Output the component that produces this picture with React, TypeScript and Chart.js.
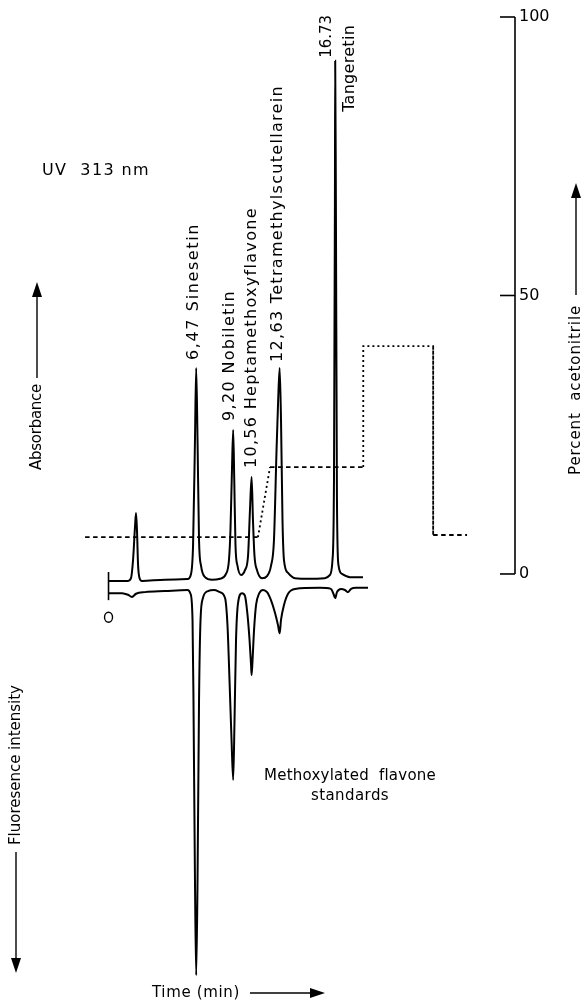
import React, { useEffect, useRef } from "react";
import { Chart, registerables } from "chart.js";

Chart.register(...registerables);

// ---- Data (time in min) ----
// UV absorbance trace (upper)
const absTime = [0, 1.44, 1.66, 1.81, 1.96, 2.03, 2.1, 2.18, 2.29, 2.47, 4.17, 5.83,
  6.09, 6.24, 6.38, 6.47, 6.57, 6.68, 6.83, 7.12, 7.64, 8.22, 8.67, 8.89,
  9.0, 9.11, 9.2, 9.28, 9.37, 9.52, 9.78, 10.07, 10.3,
  10.44, 10.56, 10.66, 10.77, 10.96, 11.33, 11.7, 11.99, 12.21, 12.4,
  12.52, 12.63, 12.73, 12.84, 12.95, 13.25, 13.76, 14.87, 15.97, 16.34, 16.53, 16.64, 16.71,
  16.73, 16.78, 16.86, 16.97, 17.23, 17.82, 18.78];
const absValue = [-0.4, -0.4, 0.1, 3.5, 10.0, 12.3, 9.1, 2.6, 0.1, -0.4, -0.2, -0.05,
  0.9, 6.3, 25.9, 39.4, 25.9, 7.2, 2.4, 0.3, -0.2, 0, 0.9, 3.5,
  9.1, 20.3, 27.8, 18.5, 6.3, 2.4, 0.7, 1.6, 4.4,
  12.9, 19.0, 11.0, 4.4, 1.6, 0.1, 0.5, 2.4, 7.2, 24.0,
  33.4, 39.4, 29.7, 11.0, 3.5, 1.1, 0.1, 0, 0.1, 0.7, 3.5, 18.5, 70.8,
  96.8, 70.8, 14.7, 2.6, 0.9, 0.3, 0.3];

// Fluorescence trace (lower, inverted)
const fluTime = [0, 1.0, 1.44, 1.73, 2.03, 2.69, 4.17, 5.83,
  6.05, 6.2, 6.27, 6.38, 6.47, 6.57, 6.68, 6.79, 6.97, 7.34, 7.79, 8.22,
  8.6, 8.78, 8.93, 9.08, 9.2, 9.3, 9.41, 9.56, 9.85,
  10.07, 10.26, 10.41, 10.52, 10.56, 10.63, 10.74, 10.89, 11.11, 11.4,
  11.7, 11.99, 12.29, 12.51, 12.63, 12.73, 12.95, 13.25, 13.76, 15.6,
  16.41, 16.6, 16.73, 16.86, 17.16, 17.45, 17.67, 17.9, 18.27, 19.15];
const fluValue = [-2.7, -2.7, -3.0, -3.4, -2.8, -2.5, -2.3, -2.1,
  -2.8, -7.7, -22.7, -56.3, -74.1, -56.3, -22.7, -7.7, -3.6, -2.3, -2.1, -2.5,
  -3.6, -8.7, -19.0, -30.2, -37.6, -26.4, -11.5, -4.5, -2.7,
  -3.2, -6.8, -11.5, -16.1, -18.0, -15.2, -9.6, -4.9, -2.8, -2.1,
  -2.5, -4.0, -6.4, -8.7, -10.2, -7.7, -4.9, -2.8, -1.9, -1.7,
  -1.9, -2.8, -3.6, -2.5, -1.9, -2.1, -2.5, -1.9, -1.7, -1.7];

// Acetonitrile gradient (percent)
const gradTime = [-1.73, 11.03, 11.92, 18.8, 18.8, 23.96, 23.96, 26.46];
const gradPercent = [6.6, 6.6, 19.2, 19.2, 40.9, 40.9, 7.0, 7.0];
const gradSegment = ["dashed", "dotted", "dashed", "dotted", "dotted", "dotted", "dashed"];

// Peaks
const peakTimes = [6.47, 9.2, 10.56, 12.63, 16.73];
const peakTimeLabels = ["6,47", "9,20", "10,56", "12,63", "16.73"];
const peakNames = ["Sinesetin", "Nobiletin", "Heptamethoxyflavone", "Tetramethylscutellarein", "Tangeretin"];

const percentTicks = [0, 50, 100];

// ---- label layout (pixel offsets from peak apex, target text length) ----
const peakLabelLayout = [
  { dx: -2, dy: -8, len: 137 },
  { dx: -3, dy: -9, len: 131 },
  { dx: 0, dy: -9, len: 261 },
  { dx: -2, dy: -6, len: 277 },
];

const LBL_FONT = "16px 'DejaVu Sans', sans-serif";
const AX_FONT = "15px 'DejaVu Sans', sans-serif";

function drawText(ctx: CanvasRenderingContext2D, text: string, x: number, y: number,
  font: string, len?: number, rot?: boolean, center?: boolean) {
  ctx.save();
  ctx.translate(x, y);
  if (rot) ctx.rotate(-Math.PI / 2);
  ctx.font = font;
  ctx.textBaseline = "middle";
  ctx.textAlign = "left";
  const w = ctx.measureText(text).width;
  let total = w;
  if (len) {
    total = len;
    if ("letterSpacing" in ctx) {
      (ctx as any).letterSpacing = ((len - w) / text.length).toFixed(2) + "px";
    }
  }
  const startX = center ? -total / 2 : 0;
  if (len && !("letterSpacing" in ctx)) {
    ctx.translate(startX, 0);
    ctx.scale(len / w, 1);
    ctx.fillText(text, 0, 0);
  } else {
    ctx.fillText(text, startX, 0);
  }
  ctx.restore();
}

function arrow(ctx: CanvasRenderingContext2D, x1: number, y1: number, x2: number, y2: number, head = 15, hw = 5) {
  const a = Math.atan2(y2 - y1, x2 - x1);
  ctx.beginPath();
  ctx.moveTo(x1, y1);
  ctx.lineTo(x2 - Math.cos(a) * head * 0.6, y2 - Math.sin(a) * head * 0.6);
  ctx.stroke();
  ctx.beginPath();
  ctx.moveTo(x2, y2);
  ctx.lineTo(x2 - Math.cos(a) * head - Math.sin(a) * hw, y2 - Math.sin(a) * head + Math.cos(a) * hw);
  ctx.lineTo(x2 - Math.cos(a) * head + Math.sin(a) * hw, y2 - Math.sin(a) * head - Math.cos(a) * hw);
  ctx.closePath();
  ctx.fill();
}

const annotate = {
  id: "annotate",
  afterDatasetsDraw(chart: any) {
    const { ctx, chartArea } = chart;
    const xs = chart.scales.x, ys = chart.scales.y, y2 = chart.scales.y2;
    ctx.save();
    ctx.fillStyle = "#000";
    ctx.strokeStyle = "#000";
    ctx.lineWidth = 1.6;

    // right percent axis line and inward ticks
    const ax = chartArea.right;
    ctx.beginPath();
    ctx.moveTo(ax, y2.getPixelForValue(0));
    ctx.lineTo(ax, y2.getPixelForValue(100));
    ctx.stroke();
    percentTicks.forEach((v) => {
      const py = y2.getPixelForValue(v);
      ctx.beginPath();
      ctx.moveTo(ax - 15, py);
      ctx.lineTo(ax, py);
      ctx.stroke();
    });

    // injection marker at t = 0
    const x0 = xs.getPixelForValue(0);
    ctx.beginPath();
    ctx.moveTo(x0, ys.getPixelForValue(1.26));
    ctx.lineTo(x0, ys.getPixelForValue(-4.0));
    ctx.stroke();
    ctx.lineWidth = 1.4;
    ctx.beginPath();
    ctx.ellipse(x0, ys.getPixelForValue(-7.2), 4, 5, 0, 0, Math.PI * 2);
    ctx.stroke();

    // peak labels
    peakTimes.forEach((t, i) => {
      const idx = absTime.indexOf(t);
      const px = xs.getPixelForValue(t);
      const py = ys.getPixelForValue(absValue[idx]);
      if (i < 4) {
        const L = peakLabelLayout[i];
        drawText(ctx, peakTimeLabels[i] + " " + peakNames[i], px + L.dx, py + L.dy, LBL_FONT, L.len, true);
      } else {
        drawText(ctx, peakTimeLabels[i], px - 8, py - 3, "15px 'DejaVu Sans', sans-serif", undefined, true);
        drawText(ctx, peakNames[i], px + 15, py + 51, LBL_FONT, 87, true);
      }
    });

    // texts
    drawText(ctx, "UV  313 nm", 42, 171, "16px 'DejaVu Sans', sans-serif", 108);

    // Absorbance
    ctx.lineWidth = 1.4;
    drawText(ctx, "Absorbance", 37, 470, AX_FONT, 86, true);
    arrow(ctx, 37, 378, 37, 282);

    // Fluorescence
    drawText(ctx, "Fluoresence intensity", 16, 845, AX_FONT, 160, true);
    arrow(ctx, 16, 852, 16, 973);

    // Percent acetonitrile
    drawText(ctx, "Percent  acetonitrile", 576, 475, AX_FONT, 170, true);
    arrow(ctx, 576, 295, 576, 183);

    // Time
    drawText(ctx, "Time (min)", 152, 993, AX_FONT, 88);
    arrow(ctx, 250, 993, 325, 993);

    // caption
    drawText(ctx, "Methoxylated  flavone", 350, 776, AX_FONT, 172, false, true);
    drawText(ctx, "standards", 350, 796, AX_FONT, 78, false, true);

    ctx.restore();
  },
};

export default function App() {
  const ref = useRef<HTMLCanvasElement>(null);
  useEffect(() => {
    if (!ref.current) return;
    const chart = new Chart(ref.current, {
      type: "line",
      data: {
        datasets: [
          {
            label: "Absorbance",
            data: absTime.map((t, i) => ({ x: t, y: absValue[i] })),
            borderColor: "#000",
            borderWidth: 2,
            pointRadius: 0,
            cubicInterpolationMode: "monotone",
            yAxisID: "y",
          },
          {
            label: "Fluorescence",
            data: fluTime.map((t, i) => ({ x: t, y: fluValue[i] })),
            borderColor: "#000",
            borderWidth: 2,
            pointRadius: 0,
            cubicInterpolationMode: "monotone",
            yAxisID: "y",
          },
          {
            label: "Percent acetonitrile",
            data: gradTime.map((t, i) => ({ x: t, y: gradPercent[i] })),
            borderColor: "#000",
            borderWidth: 1.8,
            pointRadius: 0,
            yAxisID: "y2",
            segment: {
              borderDash: (c: any) => (gradSegment[c.p0DataIndex] === "dotted" ? [2, 3] : [4.5, 3.5]),
            },
          },
        ],
      },
      options: {
        animation: false,
        responsive: false,
        layout: { padding: { left: 84, right: 31, top: 17, bottom: 22 } },
        plugins: { legend: { display: false }, tooltip: { enabled: false } },
        scales: {
          x: { type: "linear", min: -1.81, max: 30.0, display: false },
          y: { type: "linear", min: -75, max: 105, display: false },
          y2: {
            type: "linear",
            position: "right",
            min: -72.9,
            max: 100,
            grid: { display: false, drawTicks: false },
            border: { display: false },
            afterBuildTicks: (s: any) => {
              s.ticks = percentTicks.map((v) => ({ value: v }));
            },
            afterFit: (s: any) => {
              s.width = 40;
            },
            ticks: {
              color: "#000",
              padding: 4,
              font: { family: "'DejaVu Sans', sans-serif", size: 16 },
            },
          },
        },
      },
      plugins: [annotate],
    });
    return () => chart.destroy();
  }, []);
  return (
    <div style={{ position: "absolute", left: 0, top: 0, width: 586, height: 1002, background: "#fff" }}>
      <canvas ref={ref} width={586} height={1002} />
    </div>
  );
}
